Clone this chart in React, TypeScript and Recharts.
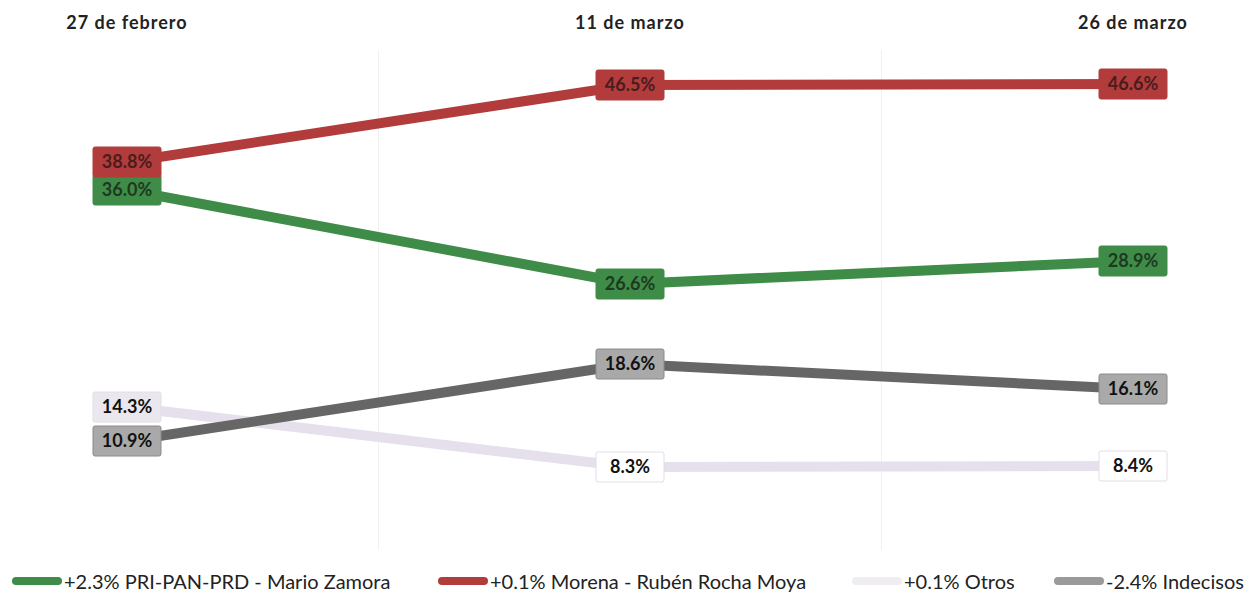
import { LineChart, Line, XAxis, YAxis, ReferenceLine, LabelList } from 'recharts'

const fechas = ['27 de febrero', '11 de marzo', '26 de marzo']
const priPanPrd = [36.0, 26.6, 28.9]
const morena = [38.8, 46.5, 46.6]
const otros = [14.3, 8.3, 8.4]
const indecisos = [10.9, 18.6, 16.1]

const series = [
  { key: 'pri', name: '+2.3% PRI-PAN-PRD - Mario Zamora', values: priPanPrd, color: '#3f8c48', box: '#3f8c48', text: '#1d3a20', border: '#3f8c48', icon: '#3f8c48' },
  { key: 'morena', name: '+0.1% Morena - Rubén Rocha Moya', values: morena, color: '#b23c3c', box: '#b23c3c', text: '#4a1c1c', border: '#b23c3c', icon: '#b23c3c' },
  { key: 'otros', name: '+0.1% Otros', values: otros, color: '#e6e0ec', box: '#ffffff', text: '#111111', border: '#e2dce8', icon: '#efedf1' },
  { key: 'indecisos', name: '-2.4% Indecisos', values: indecisos, color: '#666666', box: '#a9a9a9', text: '#111111', border: '#8a8a8a', icon: '#9a9a9a' },
]

// legend item left edges (layout only)
const legendLeft = [12, 438, 852, 1054]

// draw order: light lines first
const drawOrder = ['otros', 'indecisos', 'pri', 'morena']

const data = fechas.map((f, i) => {
  const row: Record<string, number | string> = { i, fecha: f }
  series.forEach((s) => {
    row[s.key] = s.values[i]
  })
  return row
})

const makeLabel = (box: string, text: string, border: string, firstBox?: string) => (props: any) => {
  const { x, y, value, index } = props
  const w = 68
  const h = 30
  const fill = index === 0 && firstBox ? firstBox : box
  return (
    <g>
      <rect x={x - w / 2} y={y - h / 2} width={w} height={h} rx={2} fill={fill} stroke={border} strokeWidth={1} />
      <text
        x={x}
        y={y}
        dy={6}
        textAnchor="middle"
        fontSize={18}
        fontWeight={700}
        fill={text}
        fontFamily="Lato, sans-serif"
      >
        {Number(value).toFixed(1)}%
      </text>
    </g>
  )
}

export default function App() {
  return (
    <div style={{ position: 'relative', width: 1249, height: 607, background: '#fff', fontFamily: 'Lato, sans-serif' }}>
      <style>{'body{margin:0}'}</style>
      <LineChart width={1249} height={560} data={data} margin={{ top: 10, right: 116, bottom: 10, left: 127 }}>
        <XAxis
          dataKey="i"
          type="number"
          domain={[0, 2]}
          ticks={[0, 1, 2]}
          orientation="top"
          height={40}
          axisLine={false}
          tickLine={false}
          tickSize={0}
          tickMargin={21}
          tickFormatter={(v: number) => fechas[v]}
          tick={{ fontSize: 18, fontWeight: 700, fill: '#222', fontFamily: 'Lato, sans-serif', letterSpacing: 1 }}
        />
        <YAxis hide domain={[0, 50]} />
        <ReferenceLine x={0.5} stroke="#f0f0f0" strokeWidth={1} />
        <ReferenceLine x={1.5} stroke="#f0f0f0" strokeWidth={1} />
        {drawOrder.map((k) => {
          const s = series.find((x) => x.key === k)!
          return (
            <Line
              key={s.key}
              dataKey={s.key}
              name={s.name}
              stroke={s.color}
              strokeWidth={10}
              dot={false}
              activeDot={false}
              isAnimationActive={false}
            >
              <LabelList
                dataKey={s.key}
                content={makeLabel(s.box, s.text, s.border, s.key === 'otros' ? '#ebe7ef' : undefined)}
              />
            </Line>
          )
        })}
      </LineChart>
      {series.map((s, i) => (
        <div
          key={s.key}
          style={{
            position: 'absolute',
            left: legendLeft[i],
            top: 569,
            display: 'flex',
            alignItems: 'center',
            fontSize: 20,
            color: '#222',
            whiteSpace: 'nowrap',
          }}
        >
          <span
            style={{
              display: 'inline-block',
              width: 50,
              height: 8,
              borderRadius: 4,
              background: s.icon,
              marginRight: 2,
            }}
          />
          <span>{s.name}</span>
        </div>
      ))}
    </div>
  )
}
